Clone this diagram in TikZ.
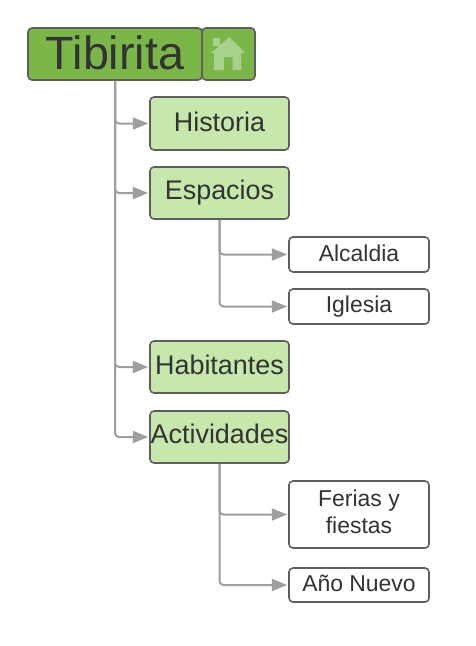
\documentclass[tikz,border=0pt]{standalone}
\usepackage{fontspec}
\setmainfont{Liberation Sans}
\usetikzlibrary{arrows.meta}
\definecolor{rootgreen}{HTML}{7AB648}
\definecolor{lightgreen}{HTML}{C7E8AC}
\definecolor{iconc}{HTML}{A9D18E}
\definecolor{edgec}{HTML}{5E5E5E}
\definecolor{linkc}{HTML}{9E9E9E}
\definecolor{textc}{HTML}{333333}
\newcommand{\up}[2]{\raisebox{#1pt}{#2}}
\tikzset{
  x=0.75pt,y=-0.75pt,
  box/.style={draw=edgec,line width=1.2pt,rounded corners=3pt,inner sep=0pt,align=center,text=textc,anchor=north west},
  rootbox/.style={box,fill=rootgreen,font=\fontsize{35}{36}\selectfont},
  topicbox/.style={box,fill=lightgreen,minimum width=104.25pt,font=\fontsize{20.2}{24}\selectfont},
  leafbox/.style={box,fill=white,minimum width=105pt,font=\fontsize{17.2}{20.5}\selectfont},
  link/.style={draw=linkc,line width=1.5pt,rounded corners=3pt,-{Triangle[length=11.5pt,width=9pt]},shorten >=0.8pt},
}
\begin{document}
\begin{tikzpicture}
\useasboundingbox[fill=white] (0,0) rectangle (475,646);
\node[rootbox,minimum width=130.5pt,minimum height=39pt] (root) at (27.2,27.2) {\up{1.5}{Tibirita}};
\node[box,fill=rootgreen,minimum width=39.75pt,minimum height=39pt] (home) at (201.2,27.2) {};
\node[topicbox,minimum height=39.75pt] (hist) at (149.2,96.2) {\up{3}{Historia}};
\node[topicbox,minimum height=39pt] (esp) at (149.2,166.2) {\up{2.25}{Espacios}};
\node[topicbox,minimum height=39pt] (hab) at (149.2,340.2) {\up{3.75}{Habitantes}};
\node[topicbox,minimum height=39pt] (act) at (149.2,410.2) {\up{5.25}{Actividades}};
\node[leafbox,minimum height=26.25pt] (alc) at (288.2,236.2) {\up{2.6}{Alcaldia}};
\node[leafbox,minimum height=26.25pt] (igl) at (288.2,288.2) {\up{1.5}{Iglesia}};
\node[leafbox,minimum height=50.25pt] (fer) at (288.2,480.2) {\raisebox{2.25pt}{\begin{tabular}{@{}c@{}}Ferias y\\[-0.3pt]fiestas\end{tabular}}};
\node[leafbox,minimum height=25.5pt] (ano) at (288.2,567.2) {\up{3}{Año Nuevo}};
% home icon
\fill[iconc] (213.2,38.2) -- (220.2,38.2) -- (220.2,46.2) -- (213.2,46.2) -- cycle;
\fill[iconc] (229.2,37.2) -- (245.7,53.2) -- (241.2,53.2) -- (241.2,70.2) -- (232.7,70.2) -- (232.7,57.2) -- (224.2,57.2) -- (224.2,70.2) -- (214.2,70.2) -- (214.2,53.2) -- (210.7,53.2) -- cycle;
% connectors
\foreach \t in {hist,esp,hab,act} \draw[link] (root.south) |- (\t.west);
\foreach \t in {alc,igl} \draw[link] (esp.south) |- (\t.west);
\foreach \t in {fer,ano} \draw[link] (act.south) |- (\t.west);
\end{tikzpicture}
\end{document}
